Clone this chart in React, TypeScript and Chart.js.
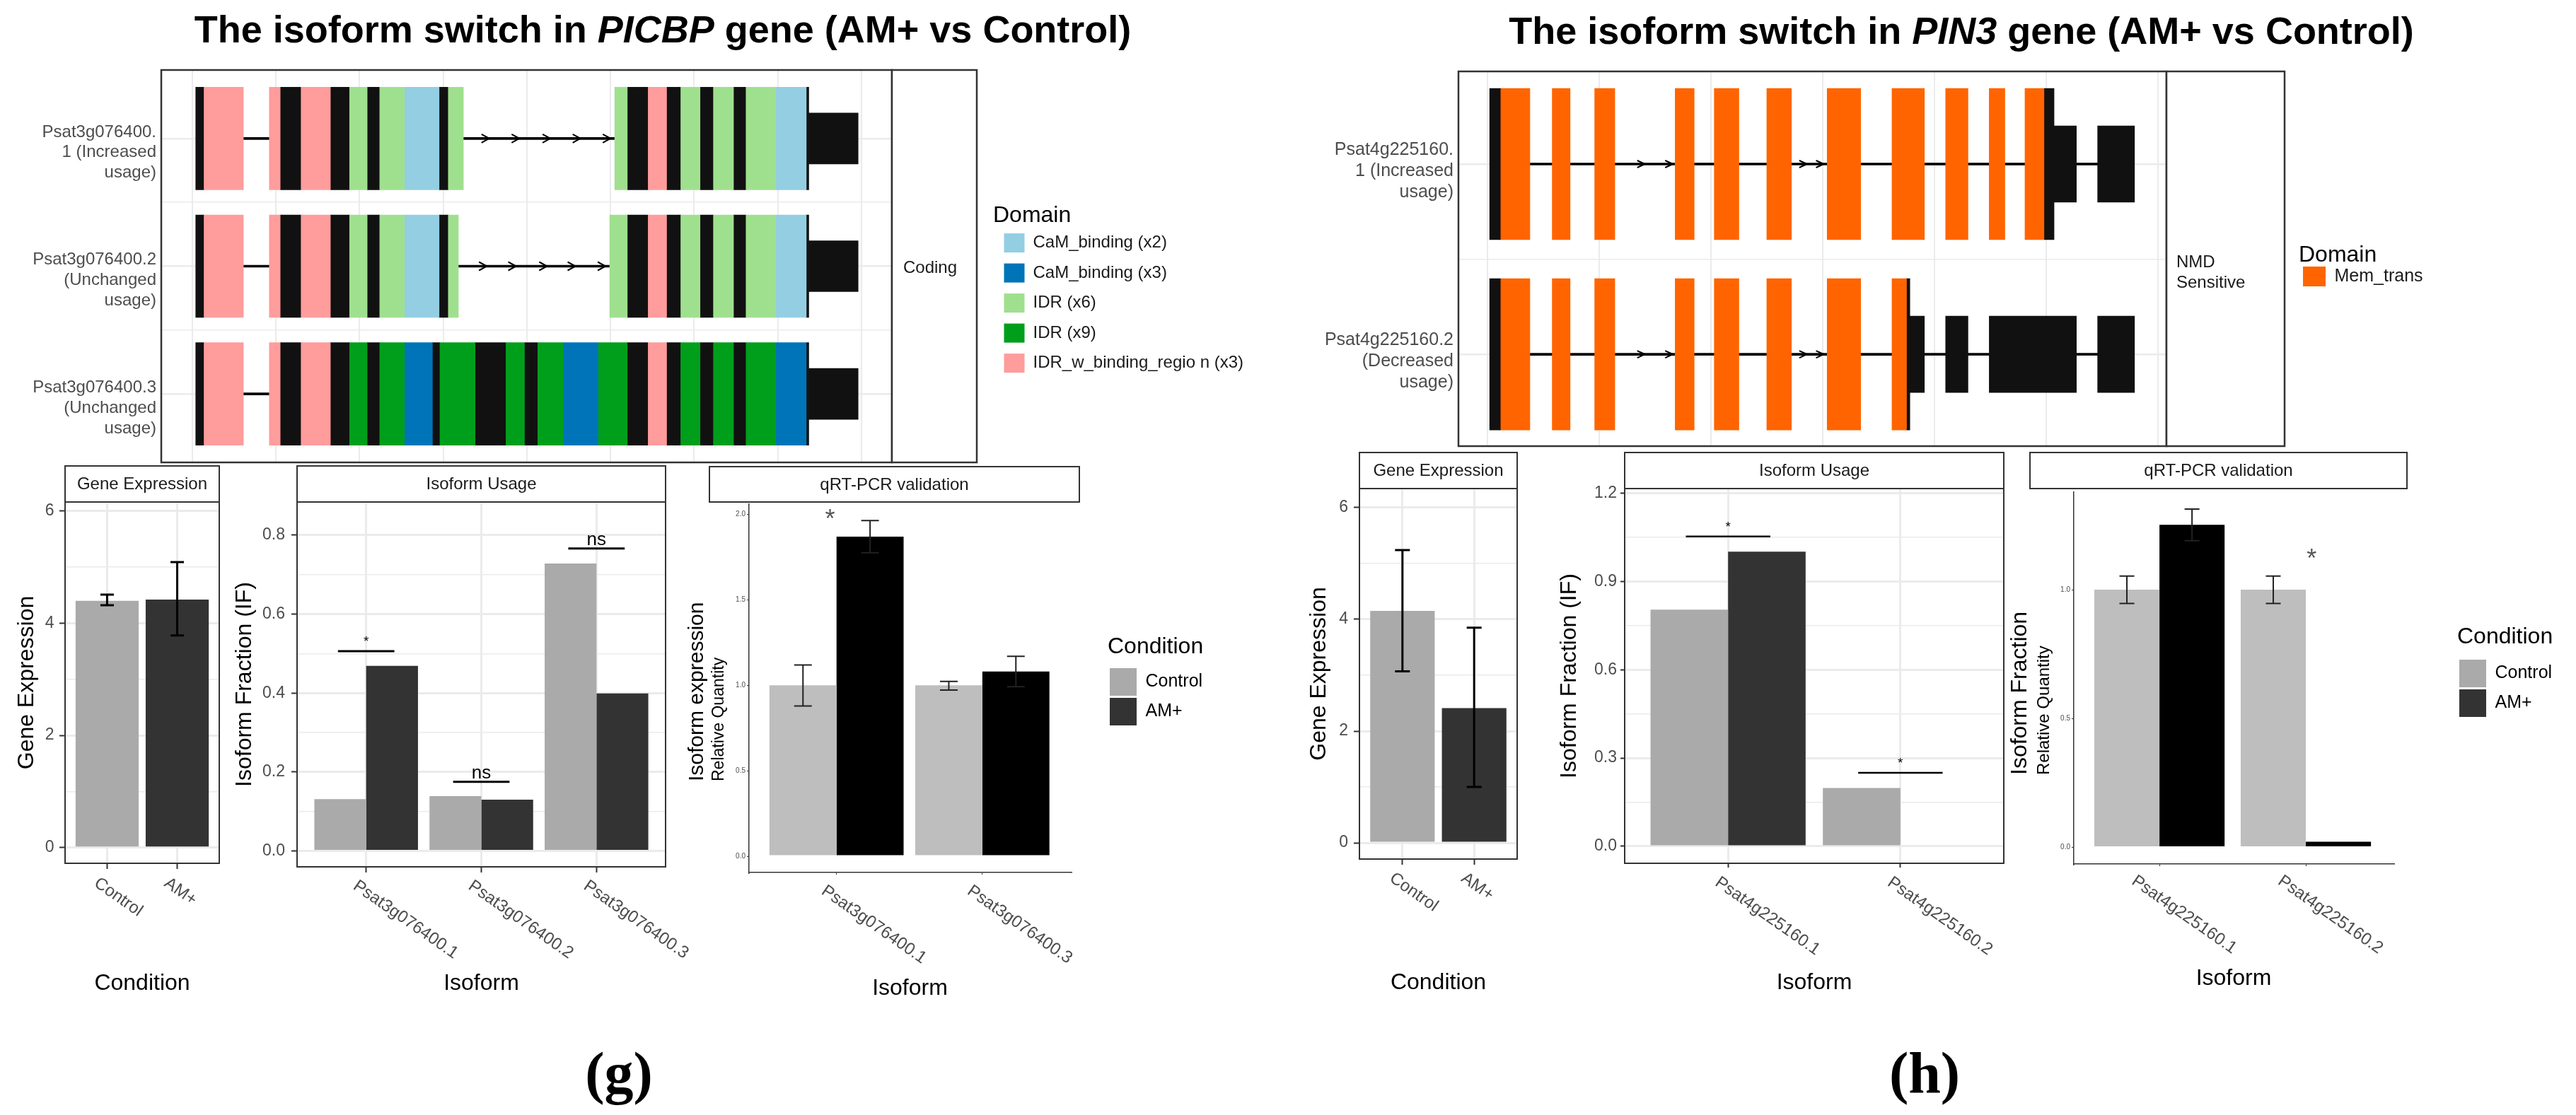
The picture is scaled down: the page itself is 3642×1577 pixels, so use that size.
import React, { useEffect, useRef } from "react";
import { Chart, registerables } from "chart.js";

Chart.register(...registerables);

const FONT = "'Liberation Sans', Arial, Helvetica, sans-serif";
Chart.defaults.font.family = FONT;

type Seg = [number, number, string];

/* ====================== DATA: panel (g) PICBP ====================== */
const PICBP_ROW_LABELS = [
  ["Psat3g076400.", "1 (Increased", "usage)"],
  ["Psat3g076400.2", "(Unchanged", "usage)"],
  ["Psat3g076400.3", "(Unchanged", "usage)"],
];
const PICBP_DOMAIN_KEYS = ["CaM2", "CaM3", "IDR6", "IDR9", "IDRw"];
const PICBP_DOMAIN_NAMES = [
  "CaM_binding (x2)",
  "CaM_binding (x3)",
  "IDR (x6)",
  "IDR (x9)",
  "IDR_w_binding_regio n (x3)",
];
// exon parts: [start, end, part]  (CDS = coding without domain, UTR = untranslated)
const PICBP_ISO1: Seg[] = [
  [4, 14, "CDS"], [14, 61, "IDRw"], [92, 105, "IDRw"], [105, 130, "CDS"], [130, 165, "IDRw"],
  [165, 188, "CDS"], [188, 209, "IDR6"], [209, 224, "CDS"], [224, 254, "IDR6"], [254, 295, "CaM2"],
  [295, 306, "CDS"], [306, 324, "IDR6"], [505, 520, "IDR6"], [520, 545, "CDS"], [545, 567, "IDRw"],
  [567, 584, "CDS"], [584, 607, "IDR6"], [607, 623, "CDS"], [623, 647, "IDR6"], [647, 662, "CDS"],
  [662, 698, "IDR6"], [698, 734, "CaM2"], [734, 737, "CDS"], [737, 796, "UTR"],
];
const PICBP_ISO2: Seg[] = [
  [4, 14, "CDS"], [14, 61, "IDRw"], [92, 105, "IDRw"], [105, 130, "CDS"], [130, 165, "IDRw"],
  [165, 188, "CDS"], [188, 209, "IDR6"], [209, 224, "CDS"], [224, 254, "IDR6"], [254, 295, "CaM2"],
  [295, 306, "CDS"], [306, 318, "IDR6"], [499, 520, "IDR6"], [520, 545, "CDS"], [545, 567, "IDRw"],
  [567, 584, "CDS"], [584, 607, "IDR6"], [607, 623, "CDS"], [623, 647, "IDR6"], [647, 662, "CDS"],
  [662, 698, "IDR6"], [698, 734, "CaM2"], [734, 737, "CDS"], [737, 796, "UTR"],
];
const PICBP_ISO3: Seg[] = [
  [4, 14, "CDS"], [14, 61, "IDRw"], [92, 105, "IDRw"], [105, 130, "CDS"], [130, 165, "IDRw"],
  [165, 188, "CDS"], [188, 209, "IDR9"], [209, 224, "CDS"], [224, 254, "IDR9"], [254, 287, "CaM3"],
  [287, 296, "CDS"], [296, 338, "IDR9"], [338, 375, "CDS"], [375, 397, "IDR9"], [397, 413, "CDS"],
  [413, 444, "IDR9"], [444, 485, "CaM3"], [485, 520, "IDR9"], [520, 545, "CDS"], [545, 567, "IDRw"],
  [567, 584, "CDS"], [584, 607, "IDR9"], [607, 623, "CDS"], [623, 647, "IDR9"], [647, 662, "CDS"],
  [662, 698, "IDR9"], [698, 734, "CaM3"], [734, 737, "CDS"], [737, 796, "UTR"],
];
// intron direction arrows: [row, x]
const PICBP_ARROWS: [number, number][] = [
  [0, 355], [0, 391], [0, 428], [0, 464], [0, 500],
  [1, 352], [1, 387], [1, 424], [1, 458], [1, 494],
];
const PICBP_GRID = [0, 100, 200, 300, 400, 500, 600, 700, 800];

const CONDITIONS = ["Control", "AM+"];
const PICBP_GENE_EXPR = [4.4, 4.42];
const PICBP_GENE_EXPR_LO = [4.32, 3.78];
const PICBP_GENE_EXPR_HI = [4.51, 5.09];
const PICBP_USAGE_ISOFORMS = ["Psat3g076400.1", "Psat3g076400.2", "Psat3g076400.3"];
const PICBP_IF_CONTROL = [0.131, 0.139, 0.728];
const PICBP_IF_AM = [0.469, 0.13, 0.399];
const PICBP_IF_SIG = ["*", "ns", "ns"];
const PICBP_IF_SIG_Y = [0.506, 0.175, 0.766];
const PICBP_QPCR_ISOFORMS = ["Psat3g076400.1", "Psat3g076400.3"];
const PICBP_QPCR_CONTROL = [1.0, 1.0];
const PICBP_QPCR_CONTROL_LO = [0.879, 0.972];
const PICBP_QPCR_CONTROL_HI = [1.119, 1.023];
const PICBP_QPCR_AM = [1.87, 1.081];
const PICBP_QPCR_AM_LO = [1.776, 0.992];
const PICBP_QPCR_AM_HI = [1.964, 1.17];

/* ====================== DATA: panel (h) PIN3 ====================== */
const PIN3_ROW_LABELS = [
  ["Psat4g225160.", "1 (Increased", "usage)"],
  ["Psat4g225160.2", "(Decreased", "usage)"],
];
const PIN3_DOMAIN_KEYS = ["MEM"];
const PIN3_DOMAIN_NAMES = ["Mem_trans"];
const PIN3_ISO1: Seg[] = [
  [2, 12, "CDS"], [12, 38, "MEM"], [58, 74, "MEM"], [96, 114, "MEM"], [168, 185, "MEM"],
  [203, 225, "MEM"], [250, 272, "MEM"], [304, 334, "MEM"], [362, 391, "MEM"], [410, 430, "MEM"],
  [449, 463, "MEM"], [481, 498, "MEM"], [498, 507, "CDS"], [507, 527, "UTR"], [546, 579, "UTR"],
];
const PIN3_ISO2: Seg[] = [
  [2, 12, "CDS"], [12, 38, "MEM"], [58, 74, "MEM"], [96, 114, "MEM"], [168, 185, "MEM"],
  [203, 225, "MEM"], [250, 272, "MEM"], [304, 334, "MEM"], [362, 375, "MEM"], [375, 378, "CDS"],
  [378, 391, "UTR"], [410, 430, "UTR"], [449, 527, "UTR"], [546, 579, "UTR"],
];
const PIN3_ARROWS: [number, number][] = [
  [0, 141], [0, 166], [0, 286], [0, 301],
  [1, 141], [1, 166], [1, 286], [1, 301],
];
const PIN3_GRID = [0, 100, 200, 300, 400, 500, 600];

const PIN3_GENE_EXPR = [4.15, 2.41];
const PIN3_GENE_EXPR_LO = [3.07, 1.0];
const PIN3_GENE_EXPR_HI = [5.24, 3.85];
const PIN3_USAGE_ISOFORMS = ["Psat4g225160.1", "Psat4g225160.2"];
const PIN3_IF_CONTROL = [0.804, 0.198];
const PIN3_IF_AM = [1.001, 0.0];
const PIN3_IF_SIG = ["*", "*"];
const PIN3_IF_SIG_Y = [1.053, 0.25];
const PIN3_QPCR_ISOFORMS = ["Psat4g225160.1", "Psat4g225160.2"];
const PIN3_QPCR_CONTROL = [1.0, 1.0];
const PIN3_QPCR_CONTROL_LO = [0.947, 0.947];
const PIN3_QPCR_CONTROL_HI = [1.053, 1.053];
const PIN3_QPCR_AM = [1.252, 0.022];
const PIN3_QPCR_AM_LO = [1.19, NaN];
const PIN3_QPCR_AM_HI = [1.313, NaN];

/* ====================== STYLES ====================== */
const GREY30 = "#4d4d4d";
const GRID = "#ebebeb";
const BLACK = "#111111";
const CTRL_COL = "#aaaaaa";
const AM_COL = "#333333";
const CTRL_QPCR_COL = "#bebebe";
const AM_QPCR_COL = "#000000";
const PICBP_DOMAIN_COLORS = ["#93cee3", "#0074b8", "#9fe08e", "#009f1b", "#ff9c9c"];
const PIN3_DOMAIN_COLORS = ["#ff6400"];

/* ====================== PLUGIN ====================== */
function glyphText(ctx: any, s: string, x: number, cy: number, size: number, color: string) {
  ctx.font = `${size}px ${FONT}`;
  ctx.fillStyle = color;
  ctx.textAlign = "center";
  ctx.textBaseline = "alphabetic";
  const k = s === "*" ? 0.58 : /^[a-z]+$/.test(s) ? 0.26 : 0.36;
  ctx.fillText(s, x, cy + k * size);
}

function makeDecor(o: any) {
  return {
    id: "decor",
    afterLayout(chart: any) {
      if (!o.legendAt || !chart.legend) return;
      const L = chart.legend;
      const x = o.legendAt[0] - o.origin[0];
      const y = o.legendAt[1] - o.origin[1];
      L.left = x; L.top = y; L.width = 460; L.height = 420;
      L.right = x + 460; L.bottom = y + 420;
    },
    afterDraw(chart: any) {
      const ctx = chart.ctx;
      const ca = chart.chartArea;
      const xs = chart.scales.x;
      const ys = chart.scales.y;
      const ox = o.origin[0];
      const oy = o.origin[1];
      ctx.save();

      // error bars
      chart.data.datasets.forEach((ds: any, di: number) => {
        if (!ds.errLo) return;
        const meta = chart.getDatasetMeta(di);
        meta.data.forEach((el: any, j: number) => {
          const lo = ds.errLo[j];
          const hi = ds.errHi[j];
          if (lo == null || hi == null || isNaN(lo) || isNaN(hi)) return;
          const x = el.x;
          const y1 = ys.getPixelForValue(lo);
          const y2 = ys.getPixelForValue(hi);
          const hw = o.cap / 2;
          ctx.strokeStyle = o.errColor || "#000";
          ctx.lineWidth = o.errLw;
          ctx.beginPath();
          ctx.moveTo(x, y1); ctx.lineTo(x, y2);
          ctx.moveTo(x - hw, y1); ctx.lineTo(x + hw, y1);
          ctx.moveTo(x - hw, y2); ctx.lineTo(x + hw, y2);
          ctx.stroke();
        });
      });

      // significance bars
      (o.sig || []).forEach((s: any) => {
        const x1 = xs.getPixelForValue(s.x - s.half);
        const x2 = xs.getPixelForValue(s.x + s.half);
        const y = ys.getPixelForValue(s.y);
        ctx.strokeStyle = "#000";
        ctx.lineWidth = s.lw;
        ctx.beginPath(); ctx.moveTo(x1, y); ctx.lineTo(x2, y); ctx.stroke();
        const off = s.text === "*" ? 19 : 12;
        glyphText(ctx, s.text, (x1 + x2) / 2, y - off, s.text === "*" ? s.starSize : s.size, "#000");
      });

      // free texts in data coordinates
      (o.texts || []).forEach((t: any) => {
        glyphText(ctx, t.text, xs.getPixelForValue(t.x), ys.getPixelForValue(t.y), t.size, t.color);
      });

      // intron chevrons
      if (o.chevrons) {
        const c = o.chevrons;
        ctx.strokeStyle = "#000";
        ctx.lineWidth = c.lw;
        c.pts.forEach((p: number[]) => {
          const x = xs.getPixelForValue(p[1]);
          const y = ys.getPixelForValue(p[0]);
          ctx.beginPath();
          ctx.moveTo(x - c.len, y - c.half);
          ctx.lineTo(x, y);
          ctx.lineTo(x - c.len, y + c.half);
          ctx.stroke();
        });
      }

      // panel border
      if (o.box) {
        ctx.strokeStyle = "#333";
        ctx.lineWidth = o.box;
        ctx.strokeRect(ca.left, ca.top, ca.right - ca.left, ca.bottom - ca.top);
      }

      // facet strip on the right (gene plot)
      if (o.sideStrip) {
        const s = o.sideStrip;
        ctx.fillStyle = "#fff";
        ctx.fillRect(ca.right, ca.top, s.w, ca.bottom - ca.top);
        ctx.strokeStyle = "#333";
        ctx.lineWidth = o.box || 2;
        ctx.strokeRect(ca.right, ca.top, s.w, ca.bottom - ca.top);
        ctx.font = `${s.size}px ${FONT}`;
        ctx.fillStyle = "#1a1a1a";
        ctx.textAlign = "left";
        ctx.textBaseline = "middle";
        const lh = s.size * 1.2;
        s.lines.forEach((ln: string, i: number) => {
          ctx.fillText(ln, s.x - ox, s.y - oy + (i - (s.lines.length - 1) / 2) * lh);
        });
      }

      // facet strip on top
      if (o.strip) {
        const r = o.strip.rect;
        const x1 = r[0] - ox, y1 = r[1] - oy, x2 = r[2] - ox, y2 = r[3] - oy;
        ctx.fillStyle = "#fff";
        ctx.fillRect(x1, y1, x2 - x1, y2 - y1);
        ctx.strokeStyle = "#333";
        ctx.lineWidth = 2;
        ctx.strokeRect(x1, y1, x2 - x1, y2 - y1);
        ctx.font = `${o.strip.size}px ${FONT}`;
        ctx.fillStyle = "#1a1a1a";
        ctx.textAlign = "center";
        ctx.textBaseline = "middle";
        ctx.fillText(o.strip.text, (x1 + x2) / 2, (y1 + y2) / 2 + 1);
      }

      // rotated x tick labels (ggplot angle = -35, hjust = 0)
      if (o.xLabels) {
        const L = o.xLabels;
        ctx.font = `${L.size}px ${FONT}`;
        ctx.fillStyle = L.color;
        ctx.textAlign = "left";
        ctx.textBaseline = "top";
        xs.ticks.forEach((tk: any) => {
          const label = L.labels[tk.value];
          if (label == null) return;
          const px = xs.getPixelForValue(tk.value);
          ctx.save();
          ctx.translate(px + L.dx, ca.bottom + L.dy);
          ctx.rotate((L.angle * Math.PI) / 180);
          ctx.fillText(label, 0, 0);
          ctx.restore();
        });
      }

      // texts in page coordinates (two-line axis title)
      (o.pageTexts || []).forEach((t: any) => {
        ctx.save();
        ctx.translate(t.x - ox, t.y - oy);
        if (t.rot) ctx.rotate((t.rot * Math.PI) / 180);
        ctx.font = `${t.size}px ${FONT}`;
        ctx.fillStyle = t.color || "#000";
        ctx.textAlign = t.align || "center";
        ctx.textBaseline = "middle";
        ctx.fillText(t.text, 0, 0);
        ctx.restore();
      });

      ctx.restore();
    },
  };
}

/* ====================== CONFIG BUILDERS ====================== */
function geneConfig(s: any) {
  const [cx, cy, cw, ch] = s.canvas;
  const [l, t, r, b] = s.area;
  const collect = (k: string) =>
    s.isoforms.flatMap((segs: Seg[], row: number) =>
      segs.filter((g) => g[2] === k).map((g) => ({ x: [g[0], g[1]], y: row }))
    );
  const introns: any[] = [];
  s.isoforms.forEach((segs: Seg[], row: number) => {
    for (let i = 1; i < segs.length; i++) {
      if (segs[i][0] > segs[i - 1][1]) introns.push({ x: [segs[i - 1][1], segs[i][0]], y: row });
    }
  });
  const base = { borderWidth: 0, grouped: false };
  const nDom = s.domainKeys.length;
  const datasets = [
    ...s.domainKeys.map((k: string, i: number) => ({
      ...base, label: s.domainNames[i], data: collect(k), backgroundColor: s.domainColors[i], barThickness: s.exonH,
    })),
    { ...base, label: "CDS", data: collect("CDS"), backgroundColor: BLACK, barThickness: s.exonH },
    { ...base, label: "UTR", data: collect("UTR"), backgroundColor: BLACK, barThickness: s.utrH },
    { ...base, label: "intron", data: introns, backgroundColor: "#000", barThickness: s.intronH, order: 10 },
  ];
  const yTicks: number[] = [];
  for (let v = 0; v <= s.rows.length - 1 + 1e-9; v += 0.5) yTicks.push(v);
  return {
    type: "bar",
    data: { datasets },
    options: {
      indexAxis: "y",
      responsive: false,
      animation: false,
      events: [],
      layout: { padding: { top: t - cy, right: cx + cw - r, left: 0, bottom: 0 } },
      scales: {
        x: {
          type: "linear", min: s.xMin, max: s.xMax, offset: false,
          afterBuildTicks: (ax: any) => { ax.ticks = s.grid.map((v: number) => ({ value: v })); },
          afterFit: (ax: any) => { ax.height = cy + ch - b; },
          ticks: { display: false },
          grid: { color: GRID, lineWidth: 2, drawTicks: false, offset: false },
          border: { display: false },
        },
        y: {
          type: "linear", reverse: true, min: s.yMin, max: s.yMax, offset: false,
          afterBuildTicks: (ax: any) => { ax.ticks = yTicks.map((v) => ({ value: v })); },
          afterFit: (ax: any) => { ax.width = l - cx; },
          ticks: {
            autoSkip: false,
            callback: (v: number) => (Number.isInteger(v) ? s.rows[v] : ""),
            font: { size: s.labelSize, lineHeight: 1.2 },
            color: GREY30,
            padding: 7,
            labelOffset: s.labelOffset,
          },
          grid: {
            color: GRID,
            lineWidth: (c: any) => (c.tick && Number.isInteger(c.tick.value) ? 2.5 : 1.5),
            drawTicks: false,
            offset: false,
          },
          border: { display: false },
        },
      },
      plugins: {
        tooltip: { enabled: false },
        legend: {
          display: true,
          position: "chartArea",
          align: "start",
          title: {
            display: true, text: "Domain", position: "start", color: "#000",
            font: { size: 32, lineHeight: s.legendTitleLH }, padding: 0,
          },
          labels: {
            boxWidth: s.legendBox[0], boxHeight: s.legendBox[1], padding: s.legendPad,
            color: "#1a1a1a", font: { size: s.legendFont },
            filter: (item: any) => item.datasetIndex < nDom,
          },
        },
      },
    },
    plugins: [
      makeDecor({
        origin: [cx, cy],
        box: 2.5,
        sideStrip: s.strip,
        chevrons: { pts: s.arrows, half: s.chevHalf, len: 11, lw: 2 },
        legendAt: s.legendAt,
      }),
    ],
  };
}

function barConfig(s: any) {
  const [cx, cy, cw, ch] = s.canvas;
  const [l, t, r, b] = s.area;
  const bw = s.theme === "bw";
  const yTicks = [...s.yMajor, ...s.yMinor].sort((a: number, c: number) => a - c);
  const isMajor = (v: number) => s.yMajor.includes(v);
  const datasets = s.series.map((se: any) => ({
    label: se.label,
    data: se.data.map((v: number, i: number) => ({ x: i, y: v })),
    backgroundColor: se.color,
    borderWidth: 0,
    categoryPercentage: s.catPct,
    barPercentage: 1,
    errLo: se.lo,
    errHi: se.hi,
  }));
  const axisBorder = bw ? { display: false } : { display: true, color: "#333", width: 1.5 };
  const tickW = bw ? 2 : 1;
  return {
    type: "bar",
    data: { datasets },
    options: {
      responsive: false,
      animation: false,
      events: [],
      layout: { padding: { top: t - cy, right: cx + cw - r, left: 0, bottom: 0 } },
      scales: {
        x: {
          type: "linear", min: s.xMin, max: s.xMax, offset: false,
          afterBuildTicks: (ax: any) => { ax.ticks = s.cats.map((_: string, i: number) => ({ value: i })); },
          afterFit: (ax: any) => { ax.height = cy + ch - b; },
          ticks: { display: false },
          grid: {
            drawOnChartArea: bw, color: GRID, lineWidth: 3, drawTicks: true,
            tickLength: s.tickLen, tickColor: "#333", tickWidth: tickW, offset: false,
          },
          border: axisBorder,
          title: { display: true, text: s.xTitle, color: "#000", font: { size: 32 }, padding: { top: 0, bottom: 4 } },
        },
        y: {
          type: "linear", min: s.yMin, max: s.yMax,
          afterBuildTicks: (ax: any) => { ax.ticks = yTicks.map((v: number) => ({ value: v })); },
          afterFit: (ax: any) => { ax.width = l - cx; },
          ticks: {
            autoSkip: false,
            callback: (v: number) => (isMajor(v) ? v.toFixed(s.yDigits) : ""),
            font: { size: s.tickSize },
            color: GREY30,
            padding: s.tickPad,
          },
          grid: {
            drawOnChartArea: bw,
            color: GRID,
            lineWidth: (c: any) => (c.tick && isMajor(c.tick.value) ? 3 : 1.5),
            drawTicks: true,
            tickLength: s.tickLen,
            tickColor: (c: any) => (c.tick && isMajor(c.tick.value) ? "#333" : "rgba(0,0,0,0)"),
            tickWidth: tickW,
          },
          border: axisBorder,
          title: s.yTitle
            ? { display: true, text: s.yTitle, color: "#000", font: { size: 32 }, padding: { top: s.yTitlePad, bottom: 0 } }
            : { display: false },
        },
      },
      plugins: {
        tooltip: { enabled: false },
        legend: s.legendAt
          ? {
              display: true,
              position: "chartArea",
              align: "start",
              title: {
                display: true, text: "Condition", position: "start", color: "#000",
                font: { size: 32, lineHeight: 1.2 }, padding: { top: 0, bottom: s.legendTitleGap },
              },
              labels: {
                boxWidth: 38, boxHeight: 39, padding: 3, color: "#1a1a1a", font: { size: 25 },
                generateLabels: () =>
                  CONDITIONS.map((c, i) => ({
                    text: c, fillStyle: [CTRL_COL, AM_COL][i], strokeStyle: [CTRL_COL, AM_COL][i],
                    lineWidth: 0, hidden: false, datasetIndex: i,
                  })),
              },
            }
          : { display: false },
      },
    },
    plugins: [
      makeDecor({
        origin: [cx, cy],
        box: bw ? 2 : 0,
        strip: { rect: s.strip, text: s.stripText, size: 24 },
        xLabels: { labels: s.cats, dx: s.labelDx, dy: s.labelDy, size: 24, color: GREY30, angle: 35 },
        cap: s.cap || 0,
        errLw: s.errLw || 2,
        errColor: s.errColor,
        sig: s.sig,
        texts: s.texts,
        pageTexts: s.pageTexts,
        legendAt: s.legendAt,
      }),
    ],
  };
}

/* ====================== CHART SPECS ====================== */
const sigList = (labels: string[], ys: number[], lw: number) =>
  labels.map((txt, i) => ({ x: i, half: 0.245, y: ys[i], text: txt, size: 26, starSize: 19, lw }));

const CANVASES: number[][] = [
  [0, 30, 1800, 700],
  [1800, 30, 1842, 700],
  [0, 640, 330, 774],
  [310, 640, 720, 774],
  [960, 640, 840, 781],
  [1830, 620, 335, 793],
  [2180, 620, 720, 793],
  [2820, 620, 822, 787],
];

const SPECS: any[] = [
  geneConfig({
    canvas: CANVASES[0], area: [228, 99, 1261, 654],
    rows: PICBP_ROW_LABELS, isoforms: [PICBP_ISO1, PICBP_ISO2, PICBP_ISO3],
    domainKeys: PICBP_DOMAIN_KEYS, domainNames: PICBP_DOMAIN_NAMES, domainColors: PICBP_DOMAIN_COLORS,
    arrows: PICBP_ARROWS, grid: PICBP_GRID,
    xMin: -37.2, xMax: 836.4, yMin: -0.536, yMax: 2.536,
    exonH: 145, utrH: 72, intronH: 3, chevHalf: 6,
    labelSize: 24, labelOffset: 20,
    strip: { w: 120, lines: ["Coding"], x: 1277, y: 379, size: 24 },
    legendAt: [1404, 289], legendBox: [29, 27], legendPad: 15.5, legendFont: 24, legendTitleLH: 0.8,
  }),
  geneConfig({
    canvas: CANVASES[1], area: [2062, 101, 3063, 631],
    rows: PIN3_ROW_LABELS, isoforms: [PIN3_ISO1, PIN3_ISO2],
    domainKeys: PIN3_DOMAIN_KEYS, domainNames: PIN3_DOMAIN_NAMES, domainColors: PIN3_DOMAIN_COLORS,
    arrows: PIN3_ARROWS, grid: PIN3_GRID,
    xMin: -25.9, xMax: 607.6, yMin: -0.487, yMax: 1.483,
    exonH: 214, utrH: 108, intronH: 3, chevHalf: 5,
    labelSize: 25, labelOffset: 10,
    strip: { w: 167, lines: ["NMD", "Sensitive"], x: 3077, y: 386, size: 24 },
    legendAt: [3250, 345], legendBox: [32, 28], legendPad: 6, legendFont: 25, legendTitleLH: 0.8125,
  }),
  barConfig({
    canvas: CANVASES[2], area: [92, 710, 310, 1221],
    cats: CONDITIONS, xMin: -0.6, xMax: 1.6,
    yMin: -0.28, yMax: 6.16, yMajor: [0, 2, 4, 6], yMinor: [1, 3, 5], yDigits: 0,
    series: [{ label: "Gene Expression", data: PICBP_GENE_EXPR, color: [CTRL_COL, AM_COL], lo: PICBP_GENE_EXPR_LO, hi: PICBP_GENE_EXPR_HI }],
    catPct: 0.9, theme: "bw",
    strip: [92, 659, 310, 710], stripText: "Gene Expression",
    yTitle: "Gene Expression", yTitlePad: 18.8, xTitle: "Condition",
    tickSize: 23, tickLen: 8, tickPad: 7.5, labelDx: -9, labelDy: 16,
    cap: 19, errLw: 3,
  }),
  barConfig({
    canvas: CANVASES[3], area: [420, 710, 941, 1226],
    cats: PICBP_USAGE_ISOFORMS, xMin: -0.6, xMax: 2.6,
    yMin: -0.0403, yMax: 0.884, yMajor: [0, 0.2, 0.4, 0.6, 0.8], yMinor: [0.1, 0.3, 0.5, 0.7], yDigits: 1,
    series: [
      { label: "Control", data: PICBP_IF_CONTROL, color: CTRL_COL },
      { label: "AM+", data: PICBP_IF_AM, color: AM_COL },
    ],
    catPct: 0.9, theme: "bw",
    strip: [420, 659, 941, 710], stripText: "Isoform Usage",
    yTitle: "Isoform Fraction (IF)", yTitlePad: 16.8, xTitle: "Isoform",
    tickSize: 23, tickLen: 8, tickPad: 9, labelDx: -9, labelDy: 15,
    sig: sigList(PICBP_IF_SIG, PICBP_IF_SIG_Y, 3),
  }),
  barConfig({
    canvas: CANVASES[4], area: [1059, 713, 1514, 1234],
    cats: PICBP_QPCR_ISOFORMS, xMin: -0.6, xMax: 1.607,
    yMin: -0.095, yMax: 2.06, yMajor: [0, 0.5, 1, 1.5, 2], yMinor: [], yDigits: 1,
    series: [
      { label: "Control", data: PICBP_QPCR_CONTROL, color: CTRL_QPCR_COL, lo: PICBP_QPCR_CONTROL_LO, hi: PICBP_QPCR_CONTROL_HI },
      { label: "AM+", data: PICBP_QPCR_AM, color: AM_QPCR_COL, lo: PICBP_QPCR_AM_LO, hi: PICBP_QPCR_AM_HI },
    ],
    catPct: 0.92, theme: "classic",
    strip: [1003, 660, 1526, 710], stripText: "qRT-PCR validation",
    xTitle: "Isoform",
    tickSize: 10, tickLen: 3, tickPad: 2, labelDx: -12, labelDy: 14,
    cap: 25, errLw: 2, errColor: "#222",
    texts: [{ x: -0.045, y: 2.01, text: "*", size: 36, color: "#555" }],
    pageTexts: [
      { text: "Isoform expression", x: 986, y: 1105, size: 30, rot: -90, align: "left" },
      { text: "Relative Quantity", x: 1017, y: 1105, size: 23, rot: -90, align: "left" },
    ],
    legendAt: [1566, 899], legendTitleGap: 4.6,
  }),
  barConfig({
    canvas: CANVASES[5], area: [1922, 691, 2145, 1215],
    cats: CONDITIONS, xMin: -0.6, xMax: 1.6,
    yMin: -0.29, yMax: 6.34, yMajor: [0, 2, 4, 6], yMinor: [1, 3, 5], yDigits: 0,
    series: [{ label: "Gene Expression", data: PIN3_GENE_EXPR, color: [CTRL_COL, AM_COL], lo: PIN3_GENE_EXPR_LO, hi: PIN3_GENE_EXPR_HI }],
    catPct: 0.9, theme: "bw",
    strip: [1922, 640, 2145, 691], stripText: "Gene Expression",
    yTitle: "Gene Expression", yTitlePad: 15.8, xTitle: "Condition",
    tickSize: 23, tickLen: 8, tickPad: 8, labelDx: -9, labelDy: 15,
    cap: 21, errLw: 3,
  }),
  barConfig({
    canvas: CANVASES[6], area: [2297, 691, 2833, 1221],
    cats: PIN3_USAGE_ISOFORMS, xMin: -0.6, xMax: 1.6,
    yMin: -0.0577, yMax: 1.2156, yMajor: [0, 0.3, 0.6, 0.9, 1.2], yMinor: [0.15, 0.45, 0.75, 1.05], yDigits: 1,
    series: [
      { label: "Control", data: PIN3_IF_CONTROL, color: CTRL_COL },
      { label: "AM+", data: PIN3_IF_AM, color: AM_COL },
    ],
    catPct: 0.9, theme: "bw",
    strip: [2297, 640, 2833, 691], stripText: "Isoform Usage",
    yTitle: "Isoform Fraction (IF)", yTitlePad: 19.8, xTitle: "Isoform",
    tickSize: 23, tickLen: 6, tickPad: 5, labelDx: -9, labelDy: 15,
    sig: sigList(PIN3_IF_SIG, PIN3_IF_SIG_Y, 2.5),
  }),
  barConfig({
    canvas: CANVASES[7], area: [2932, 696, 3384, 1222],
    cats: PIN3_QPCR_ISOFORMS, xMin: -0.585, xMax: 1.599,
    yMin: -0.0645, yMax: 1.379, yMajor: [0, 0.5, 1], yMinor: [], yDigits: 1,
    series: [
      { label: "Control", data: PIN3_QPCR_CONTROL, color: CTRL_QPCR_COL, lo: PIN3_QPCR_CONTROL_LO, hi: PIN3_QPCR_CONTROL_HI },
      { label: "AM+", data: PIN3_QPCR_AM, color: AM_QPCR_COL, lo: PIN3_QPCR_AM_LO, hi: PIN3_QPCR_AM_HI },
    ],
    catPct: 0.89, theme: "classic",
    strip: [2870, 640, 3403, 691], stripText: "qRT-PCR validation",
    xTitle: "Isoform",
    tickSize: 10, tickLen: 3, tickPad: 2, labelDx: -30, labelDy: 12,
    cap: 21, errLw: 2, errColor: "#222",
    texts: [{ x: 1.04, y: 1.145, text: "*", size: 36, color: "#555" }],
    pageTexts: [
      { text: "Isoform Fraction", x: 2856, y: 1096, size: 32, rot: -90, align: "left" },
      { text: "Relative Quantity", x: 2890, y: 1096, size: 24, rot: -90, align: "left" },
    ],
    legendAt: [3474, 885.5], legendTitleGap: 6.1,
  }),
];

/* ====================== COMPONENT ====================== */
const titleStyle = (cxp: number, top: number): React.CSSProperties => ({
  position: "absolute",
  left: cxp - 1000,
  width: 2000,
  top,
  textAlign: "center",
  fontFamily: FONT,
  fontWeight: "bold",
  fontSize: 54,
  lineHeight: "54px",
  whiteSpace: "nowrap",
  color: "#000",
});
const panelLabelStyle = (cxp: number): React.CSSProperties => ({
  position: "absolute",
  left: cxp - 200,
  width: 400,
  top: 1477,
  textAlign: "center",
  fontFamily: "'Liberation Serif', 'Times New Roman', serif",
  fontWeight: "bold",
  fontSize: 82,
  lineHeight: "82px",
  color: "#000",
});

export default function App() {
  const refs = useRef<(HTMLCanvasElement | null)[]>([]);
  useEffect(() => {
    const charts = SPECS.map((cfg, i) => new Chart(refs.current[i] as HTMLCanvasElement, cfg));
    return () => charts.forEach((c) => c.destroy());
  }, []);
  return (
    <div
      style={{
        position: "absolute", left: 0, top: 0, width: 3642, height: 1577,
        background: "#fff", overflow: "hidden",
      }}
    >
      {CANVASES.map((c, i) => (
        <canvas
          key={i}
          ref={(el) => { refs.current[i] = el; }}
          width={c[2]}
          height={c[3]}
          style={{ position: "absolute", left: c[0], top: c[1], width: c[2], height: c[3] }}
        />
      ))}
      <div style={titleStyle(937, 14)}>
        The isoform switch in <i>PICBP</i> gene (AM+ vs Control)
      </div>
      <div style={titleStyle(2773, 16)}>
        The isoform switch in <i>PIN3</i> gene (AM+ vs Control)
      </div>
      <div style={panelLabelStyle(875)}>(g)</div>
      <div style={panelLabelStyle(2721)}>(h)</div>
    </div>
  );
}
